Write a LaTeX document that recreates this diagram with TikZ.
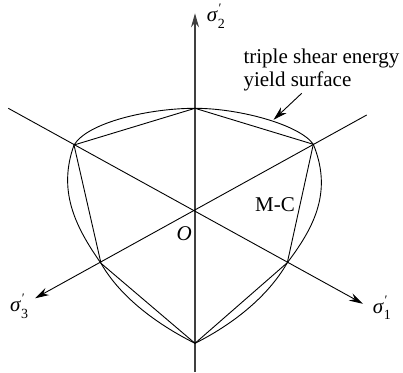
\documentclass[tikz,border=0pt]{standalone}
\usepackage{fontspec}
\setmainfont{Liberation Serif}
\usetikzlibrary{arrows.meta}
\newcommand{\sgm}[1]{\textit{σ}\makebox[0pt][l]{\raisebox{0.42em}{\fontsize{13}{13}\selectfont\textit{′}}}\raisebox{-0.32em}{\fontsize{14}{14}\selectfont #1}}
\begin{document}
\begin{tikzpicture}[x=1pt,y=-1pt,
  line/.style={line width=0.9pt,black},
  axarrow/.style={line width=0.9pt,-{Stealth[length=14pt,width=8pt]}},
  lbl/.style={inner sep=0pt,font=\fontsize{21}{23}\selectfont}]
\useasboundingbox (0,0) rectangle (403,372);
% key points
\coordinate (O) at (195,210.7);
\coordinate (T) at (195,108.3);
\coordinate (UL) at (74,145);
\coordinate (UR) at (313.3,144.3);
\coordinate (LL) at (101,263.3);
\coordinate (LR) at (287.3,262.7);
\coordinate (B) at (195,343.3);
\coordinate (Yb) at (195,372);
\coordinate (Yt) at (195,13.3);
\coordinate (Aul) at (8.3,108.3);
\coordinate (A1) at (363,303.8);
\coordinate (Aur) at (366.7,115);
\coordinate (A3) at (35,298.3);
\coordinate (Ps) at (301.7,93.3);
\coordinate (Pe) at (273.5,119.8);
% axes
\draw[axarrow,line width=1.1pt,black!75] (Yb) -- (Yt);
\draw[axarrow] (Aul) -- (A1);
\draw[axarrow] (Aur) -- (A3);
% M-C hexagon
\draw[line,line join=miter] (T) -- (UR) -- (LR) -- (B) -- (LL) -- (UL) -- cycle;
% triple shear energy yield surface
\draw[line]
  (T) .. controls (240,108.3) and (300,125) .. (UR)
      .. controls (332,190) and (316,225) .. (LR)
      .. controls (267.3,297.7) and (231,325.3) .. (B)
      .. controls (159,325.3) and (121,298.3) .. (LL)
      .. controls (74,225) and (58,190) .. (UL)
      .. controls (88,122) and (150,108.3) .. (T);
% pointer
\draw[axarrow] (Ps) -- (Pe);
% labels
\node[lbl,anchor=base west] (s2) at (206.7,21.7) {\sgm{2}};
\node[lbl,anchor=base west] (s3) at (10,311.7) {\sgm{3}};
\node[lbl,anchor=base west] (s1) at (372.7,313) {\sgm{1}};
\node[lbl,anchor=base west] (o) at (176.5,240.5) {\textit{O}};
\node[lbl,anchor=base west] (mc) at (255,211.7) {M-C};
\node[lbl,anchor=base west] (t1) at (243.3,63.3) {triple shear energy};
\node[lbl,anchor=base west] (t2) at (243.3,86) {yield surface};
\end{tikzpicture}
\end{document}
